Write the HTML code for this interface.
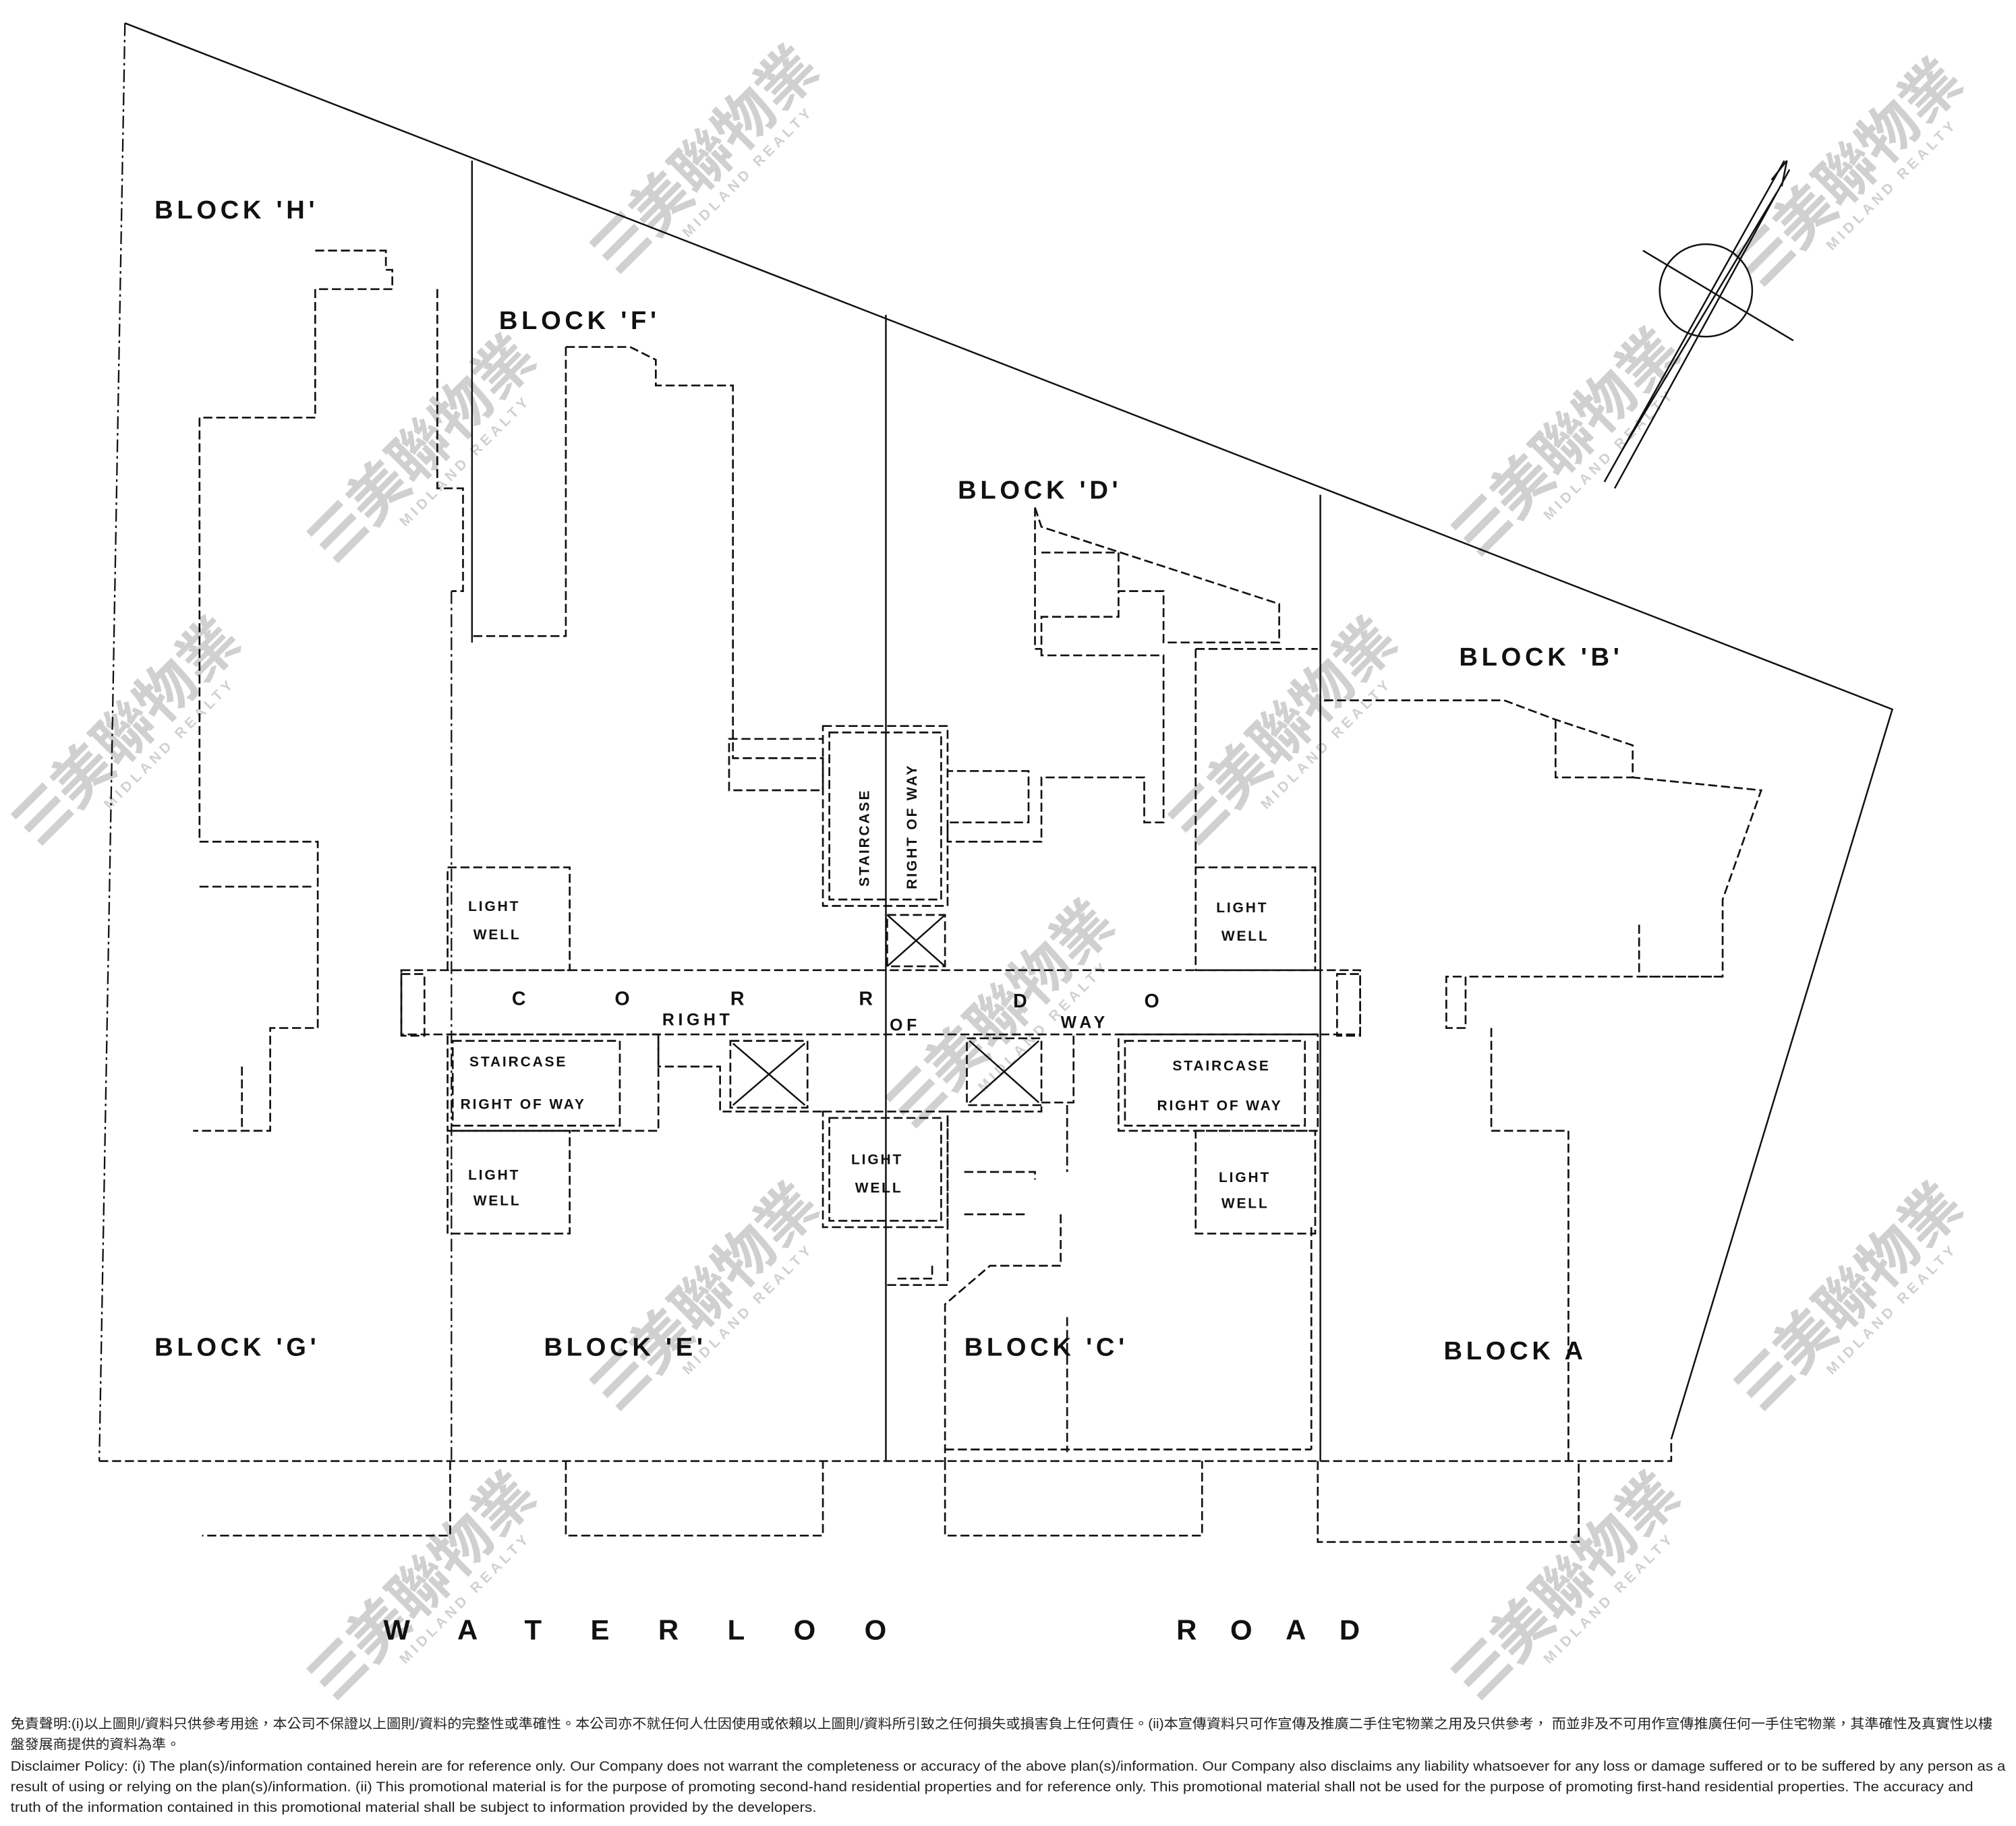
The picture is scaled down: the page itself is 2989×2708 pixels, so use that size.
<!DOCTYPE html>
<html><head><meta charset="utf-8"><style>
html,body{margin:0;padding:0;background:#fff}
svg{display:block}
.s{fill:none;stroke:#111;stroke-width:1.3}
.d{fill:none;stroke:#111;stroke-width:1.4;stroke-dasharray:7 3}
.dd{fill:none;stroke:#111;stroke-width:1.2;stroke-dasharray:10 3 2 3}
.lb{font-family:"Liberation Sans",sans-serif;font-weight:bold;fill:#111}
.sm{font-family:"Liberation Sans",sans-serif;font-weight:bold;fill:#111;font-size:11px;letter-spacing:1.5px}
.wm{font-family:"Liberation Sans","Noto Sans CJK TC",sans-serif;font-weight:bold;fill:#d0d0d0;font-size:46px}
.wm2{font-family:"Liberation Sans",sans-serif;font-weight:bold;fill:#d0d0d0;font-size:11px;letter-spacing:3px}
.disc{font-family:"Liberation Sans","Noto Sans CJK TC",sans-serif;fill:#222;font-size:10.5px}
</style></head><body>
<svg width="2989" height="2708" viewBox="0 0 1568 1421" xmlns="http://www.w3.org/2000/svg">
<rect width="1568" height="1421" fill="#fff"/>
<g>
<g transform="translate(480,215) rotate(-45)"><text class="wm" x="0" y="0">☰美聯物業</text><text class="wm2" x="60" y="18">MIDLAND REALTY</text></g>
<g transform="translate(1370,225) rotate(-45)"><text class="wm" x="0" y="0">☰美聯物業</text><text class="wm2" x="60" y="18">MIDLAND REALTY</text></g>
<g transform="translate(260,440) rotate(-45)"><text class="wm" x="0" y="0">☰美聯物業</text><text class="wm2" x="60" y="18">MIDLAND REALTY</text></g>
<g transform="translate(1150,435) rotate(-45)"><text class="wm" x="0" y="0">☰美聯物業</text><text class="wm2" x="60" y="18">MIDLAND REALTY</text></g>
<g transform="translate(30,660) rotate(-45)"><text class="wm" x="0" y="0">☰美聯物業</text><text class="wm2" x="60" y="18">MIDLAND REALTY</text></g>
<g transform="translate(930,660) rotate(-45)"><text class="wm" x="0" y="0">☰美聯物業</text><text class="wm2" x="60" y="18">MIDLAND REALTY</text></g>
<g transform="translate(710,880) rotate(-45)"><text class="wm" x="0" y="0">☰美聯物業</text><text class="wm2" x="60" y="18">MIDLAND REALTY</text></g>
<g transform="translate(480,1100) rotate(-45)"><text class="wm" x="0" y="0">☰美聯物業</text><text class="wm2" x="60" y="18">MIDLAND REALTY</text></g>
<g transform="translate(1370,1100) rotate(-45)"><text class="wm" x="0" y="0">☰美聯物業</text><text class="wm2" x="60" y="18">MIDLAND REALTY</text></g>
<g transform="translate(260,1325) rotate(-45)"><text class="wm" x="0" y="0">☰美聯物業</text><text class="wm2" x="60" y="18">MIDLAND REALTY</text></g>
<g transform="translate(1150,1325) rotate(-45)"><text class="wm" x="0" y="0">☰美聯物業</text><text class="wm2" x="60" y="18">MIDLAND REALTY</text></g>
</g>
<polyline class="s" points="97,18 1472,552 1300,1120"/>
<polyline class="dd" points="97,18 77,1137"/>
<polyline class="d" points="77,1137 1300,1137 1300,1120"/>
<line class="s" x1="367" y1="125" x2="367" y2="500"/>
<line class="dd" x1="351" y1="460" x2="351" y2="1137"/>
<line class="s" x1="689" y1="245" x2="689" y2="1137"/>
<line class="s" x1="1027" y1="385" x2="1027" y2="1137"/>
<polyline class="d" points="245,195 300,195 300,210 305,210 305,225 245,225 245,325 155,325 155,655 247,655 247,800 210,800 210,880 150,880"/>
<polyline class="d" points="188,830 188,880"/>
<polyline class="d" points="340,225 340,380 360,380 360,460 351,460"/>
<polyline class="d" points="155,690 245,690"/>
<polyline class="d" points="440,270 490,270 510,280 510,300 570,300 570,590 640,590 640,615 567,615 567,575 640,575"/>
<polyline class="d" points="440,270 440,495 367,495"/>
<polyline class="d" points="805,395 810,410 995,470 995,500 905,500 905,460 870,460 870,480 810,480 810,510 905,510 905,640 890,640 890,605 810,605 810,655 737,655 737,640 800,640 800,600 737,600"/>
<polyline class="d" points="810,430 870,430 870,460"/>
<polyline class="d" points="805,395 805,505 810,505"/>
<polyline class="d" points="930,505 1025,505"/>
<polyline class="d" points="930,505 930,675"/>
<polyline class="d" points="1030,545 1170,545 1210,560 1270,580 1270,605 1370,615 1340,700 1340,760 1275,760 1275,718"/>
<polyline class="d" points="1210,560 1210,605 1270,605"/>
<polyline class="d" points="1340,760 1140,760 1140,800 1125,800 1125,760 1140,760"/>
<polyline class="d" points="1160,800 1160,880 1220,880 1220,1137"/>
<rect class="d" x="312" y="755" width="746" height="50"/>
<rect class="d" x="1040" y="758" width="18" height="48"/>
<rect class="d" x="312" y="758" width="18" height="48"/>
<rect class="d" x="640" y="565" width="97" height="140"/>
<rect class="d" x="645" y="570" width="87" height="130"/>
<rect class="d" x="690" y="712" width="45" height="40"/>
<line class="s" x1="690" y1="712" x2="735" y2="752"/><line class="s" x1="735" y1="712" x2="690" y2="752"/>
<rect class="d" x="348" y="675" width="95" height="80"/>
<rect class="d" x="348" y="880" width="95" height="80"/>
<rect class="d" x="930" y="675" width="93" height="80"/>
<rect class="d" x="930" y="880" width="93" height="80"/>
<rect class="d" x="640" y="865" width="97" height="90"/>
<rect class="d" x="645" y="870" width="87" height="80"/>
<rect class="d" x="348" y="805" width="164" height="75"/>
<rect class="d" x="352" y="810" width="130" height="66"/>
<rect class="d" x="870" y="805" width="155" height="75"/>
<rect class="d" x="875" y="810" width="140" height="66"/>
<rect class="d" x="568" y="810" width="60" height="52"/>
<line class="s" x1="570" y1="812" x2="626" y2="860"/><line class="s" x1="626" y1="812" x2="570" y2="860"/>
<rect class="d" x="752" y="808" width="58" height="52"/>
<line class="s" x1="754" y1="810" x2="808" y2="858"/><line class="s" x1="808" y1="810" x2="754" y2="858"/>
<polyline class="d" points="512,805 512,830 560,830 560,865 640,865"/>
<polyline class="d" points="737,865 810,865 810,858 835,858 835,805"/>
<polyline class="d" points="737,870 737,1000 690,1000"/>
<polyline class="d" points="750,912 805,912 805,918"/>
<polyline class="d" points="750,945 800,945"/>
<polyline class="d" points="830,860 830,912"/>
<polyline class="d" points="825,945 825,985 770,985 735,1015 735,1137"/>
<polyline class="d" points="725,985 725,995 695,995"/>
<polyline class="d" points="830,1025 830,1130"/>
<polyline class="d" points="735,1128 1020,1128"/>
<polyline class="d" points="1020,955 1020,1128"/>
<polyline class="d" points="350,1137 350,1195 157,1195"/>
<polyline class="d" points="440,1137 440,1195 640,1195 640,1137"/>
<polyline class="d" points="735,1137 735,1195 935,1195 935,1137"/>
<polyline class="d" points="1025,1137 1025,1200 1228,1200 1228,1137"/>
<circle class="s" cx="1327" cy="226" r="36"/>
<line class="s" x1="1248" y1="375" x2="1388" y2="125"/>
<line class="s" x1="1256" y1="380" x2="1392" y2="132"/>
<line class="s" x1="1262" y1="350" x2="1382" y2="150"/>
<line class="s" x1="1278" y1="195" x2="1395" y2="265"/>
<polyline class="s" points="1378,140 1390,125 1386,145"/>
<g style="letter-spacing:3px">
<text class="lb" x="120" y="170" font-size="20">BLOCK 'H'</text>
<text class="lb" x="388" y="256" font-size="20">BLOCK 'F'</text>
<text class="lb" x="745" y="388" font-size="20">BLOCK 'D'</text>
<text class="lb" x="1135" y="518" font-size="20">BLOCK 'B'</text>
<text class="lb" x="120" y="1055" font-size="20">BLOCK 'G'</text>
<text class="lb" x="423" y="1055" font-size="20">BLOCK 'E'</text>
<text class="lb" x="750" y="1055" font-size="20">BLOCK 'C'</text>
<text class="lb" x="1123" y="1058" font-size="20">BLOCK A</text>
</g>
<text class="sm" x="364" y="709">LIGHT</text><text class="sm" x="368" y="731">WELL</text>
<text class="sm" x="364" y="918">LIGHT</text><text class="sm" x="368" y="938">WELL</text>
<text class="sm" x="946" y="710">LIGHT</text><text class="sm" x="950" y="732">WELL</text>
<text class="sm" x="948" y="920">LIGHT</text><text class="sm" x="950" y="940">WELL</text>
<text class="sm" x="662" y="906">LIGHT</text><text class="sm" x="665" y="928">WELL</text>
<text class="sm" x="365" y="830">STAIRCASE</text><text class="sm" x="358" y="863">RIGHT OF WAY</text>
<text class="sm" x="912" y="833">STAIRCASE</text><text class="sm" x="900" y="864">RIGHT OF WAY</text>
<text class="sm" transform="translate(676,690) rotate(-90)">STAIRCASE</text>
<text class="sm" transform="translate(713,692) rotate(-90)">RIGHT OF WAY</text>
<text class="lb" x="398" y="782" font-size="15">C</text>
<text class="lb" x="478" y="782" font-size="15">O</text>
<text class="lb" x="568" y="782" font-size="15">R</text>
<text class="lb" x="668" y="782" font-size="15">R</text>
<text class="lb" x="515" y="798" font-size="13" style="letter-spacing:3px">RIGHT</text>
<text class="lb" x="692" y="802" font-size="13" style="letter-spacing:3px">OF</text>
<text class="lb" x="788" y="784" font-size="15">D</text>
<text class="lb" x="890" y="784" font-size="15">O</text>
<text class="lb" x="825" y="800" font-size="13" style="letter-spacing:3px">WAY</text>
<text class="lb" x="298" y="1276" font-size="22" style="letter-spacing:38px">WATERLOO</text>
<text class="lb" x="915" y="1276" font-size="22" style="letter-spacing:26px">ROAD</text>
<text class="disc" x="8" y="1345" textLength="1542" lengthAdjust="spacingAndGlyphs">免責聲明:(i)以上圖則/資料只供參考用途，本公司不保證以上圖則/資料的完整性或準確性。本公司亦不就任何人仕因使用或依賴以上圖則/資料所引致之任何損失或損害負上任何責任。(ii)本宣傳資料只可作宣傳及推廣二手住宅物業之用及只供參考， 而並非及不可用作宣傳推廣任何一手住宅物業，其準確性及真實性以樓</text>
<text class="disc" x="8" y="1361" textLength="132" lengthAdjust="spacingAndGlyphs">盤發展商提供的資料為準。</text>
<text class="disc" x="8" y="1378" textLength="1552" lengthAdjust="spacingAndGlyphs">Disclaimer Policy: (i) The plan(s)/information contained herein are for reference only. Our Company does not warrant the completeness or accuracy of the above plan(s)/information. Our Company also disclaims any liability whatsoever for any loss or damage suffered or to be suffered by any person as a</text>
<text class="disc" x="8" y="1394" textLength="1527" lengthAdjust="spacingAndGlyphs">result of using or relying on the plan(s)/information. (ii) This promotional material is for the purpose of promoting second-hand residential properties and for reference only. This promotional material shall not be used for the purpose of promoting first-hand residential properties. The accuracy and</text>
<text class="disc" x="8" y="1410" textLength="627" lengthAdjust="spacingAndGlyphs">truth of the information contained in this promotional material shall be subject to information provided by the developers.</text>
</svg>
</body></html>
